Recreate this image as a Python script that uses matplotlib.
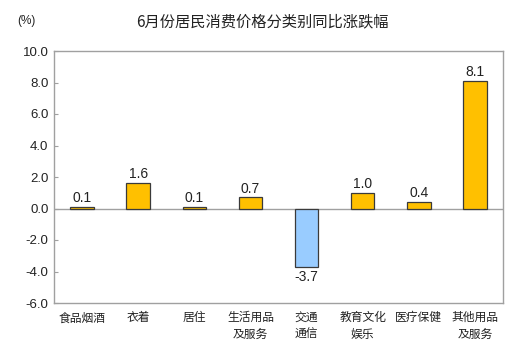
import matplotlib
matplotlib.use("Agg")
import matplotlib.pyplot as plt

plt.rcParams['font.family'] = ['Noto Sans CJK SC', 'DejaVu Sans']

categories = ["食品烟酒", "衣着", "居住", "生活用品\n及服务", "交通\n通信", "教育文化\n娱乐", "医疗保健", "其他用品\n及服务"]
values = [0.1, 1.6, 0.1, 0.7, -3.7, 1.0, 0.4, 8.1]
yticks = [-6.0, -4.0, -2.0, 0.0, 2.0, 4.0, 6.0, 8.0, 10.0]

fig = plt.figure(figsize=(5.28, 3.61), dpi=100)
ax = fig.add_axes([54/528, 1-303/361, 449/528, 252/361])

x = list(range(len(categories)))
colors = ["#FFC000" if v >= 0 else "#99CCFF" for v in values]
ax.bar(x, values, width=0.42, color=colors, edgecolor="#3a3a3a", linewidth=0.9, zorder=3)
ax.axhline(0, color="#a0a0a0", linewidth=1.0, zorder=2)

for xi, v in zip(x, values):
    if v >= 0:
        ax.text(xi, v + 0.12, f"{v:.1f}", ha="center", va="bottom", fontsize=10,
                family="Liberation Sans", color="#222222")
    else:
        ax.text(xi, v - 0.2, f"{v:.1f}", ha="center", va="top", fontsize=10,
                family="Liberation Sans", color="#222222")

ax.set_xlim(-0.5, len(categories) - 0.5)
ax.set_ylim(-6, 10)
ax.set_yticks(yticks)
ax.set_yticklabels([f"{t:.1f}" for t in yticks], family="Liberation Sans", fontsize=9.5, color="#222222")
ax.set_xticks(x)
ax.set_xticklabels(categories, fontsize=8.5, color="#222222", linespacing=1.35, va="top")
ax.tick_params(axis="x", length=0, pad=6)
ax.tick_params(axis="y", length=3, direction="in", color="#a0a0a0", pad=4)
for s in ax.spines.values():
    s.set_color("#a0a0a0")
    s.set_linewidth(1.0)

fig.text(26/528, 1-21/361, "(%)", fontsize=8.5, family="Liberation Sans", color="#222222", ha="center", va="center")
fig.text(262/528, 1-22/361, "6月份居民消费价格分类别同比涨跌幅", fontsize=11, ha="center", va="center", color="#222222")

fig.savefig("out.png", dpi=100)
